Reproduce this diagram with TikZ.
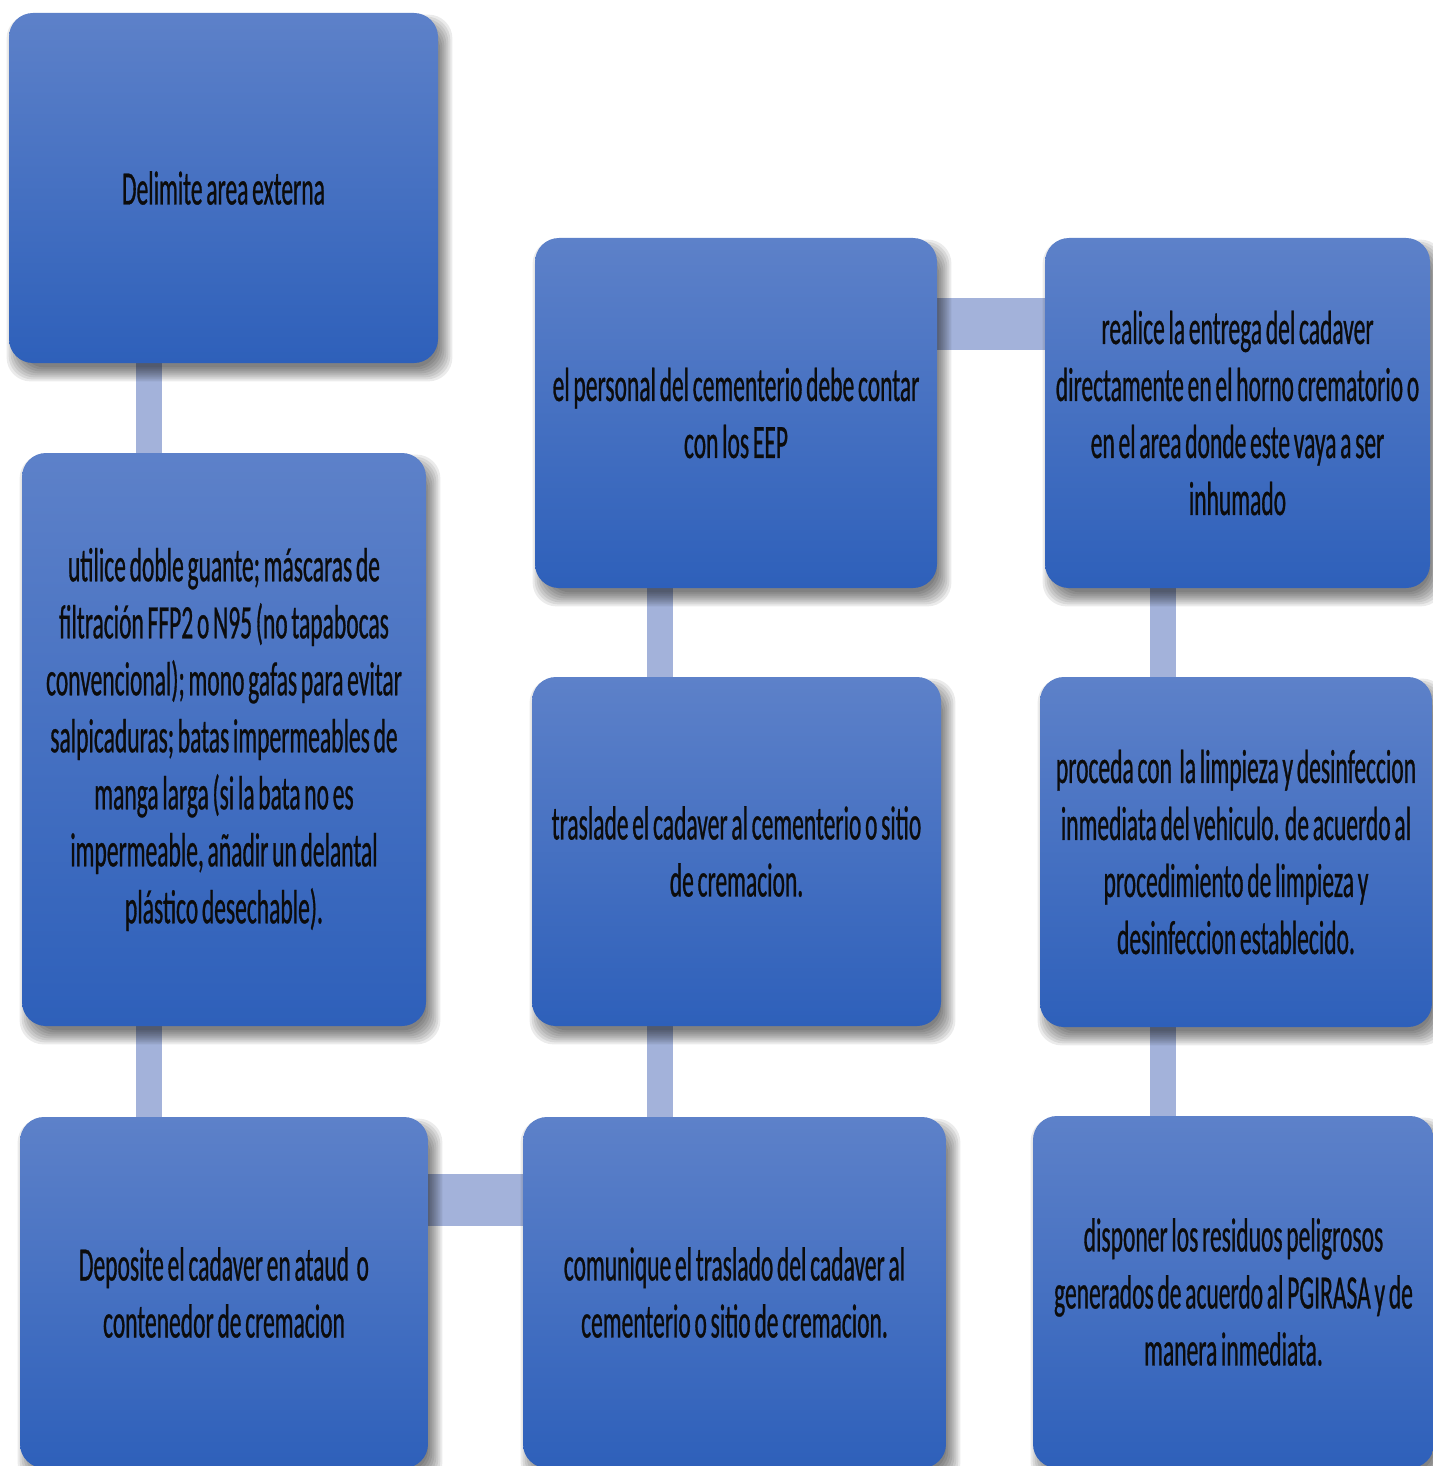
\documentclass[tikz,border=0pt]{standalone}
\usepackage{fontspec}
\newfontfamily\boxfont[FakeStretch=0.49,WordSpace=0.7,FakeBold=0.6]{Carlito}
\pgfdeclarelayer{background}
\pgfdeclarelayer{shadow}
\pgfsetlayers{background,shadow,main}
\definecolor{boxtop}{RGB}{93,129,201}
\definecolor{boxbot}{RGB}{46,96,186}
\definecolor{barcol}{RGB}{163,178,218}
\definecolor{txt}{RGB}{12,12,12}
\tikzset{
  stepbox/.style={rectangle, rounded corners=12pt, top color=boxtop, bottom color=boxbot,
    draw=none, inner sep=0pt, align=center, text=txt,
    font=\boxfont\fontsize{24pt}{28.5pt}\selectfont},
  vbar/.style={draw=barcol, line width=13pt},
  hbar/.style={draw=barcol, line width=26pt},
  shadowpiece/.style={fill=black, opacity=0.08, rounded corners=12pt},
}
\begin{document}
\begin{tikzpicture}[x=0.5pt,y=-0.5pt]
\begin{pgfonlayer}{background}
\fill[white] (0,0) rectangle (1432,1466);
\end{pgfonlayer}
\useasboundingbox (0,0) rectangle (1432,1466);

\node[stepbox, minimum width=214.5pt, minimum height=175pt] (b1) at (223.5,188) {Delimite area externa};
\node[stepbox, minimum width=202pt, minimum height=286.5pt] (b2) at (224,739.5)
 {utilice doble guante; máscaras de\\filtración FFP2 o N95 (no tapabocas\\convencional); mono gafas para evitar\\salpicaduras; batas impermeables de\\manga larga (si la bata no es\\impermeable, añadir un delantal\\plástico desechable).};
\node[stepbox, minimum width=204pt, minimum height=175.5pt] (b3) at (224,1292.5)
 {Deposite el cadaver en ataud~ o\\contenedor de cremacion};
\node[stepbox, minimum width=211.5pt, minimum height=175.5pt] (b4) at (734.5,1292.5)
 {comunique el traslado del cadaver al\\cementerio o sitio de cremacion.};
\node[stepbox, minimum width=204.5pt, minimum height=174.5pt] (b5) at (736.5,851.5)
 {traslade el cadaver al cementerio o sitio\\de cremacion.};
\node[stepbox, minimum width=201pt, minimum height=175pt] (b6) at (736,413)
 {el personal del cementerio debe contar\\con los EEP};
\node[stepbox, minimum width=192.5pt, minimum height=175pt] (b7) at (1237.5,413)
 {realice la entrega del cadaver\\directamente en el horno crematorio o\\en el area donde este vaya a ser\\inhumado};
\node[stepbox, minimum width=196pt, minimum height=175pt] (b8) at (1236,852)
 {proceda con~ la limpieza y desinfeccion\\inmediata del vehiculo. de acuerdo al\\procedimiento de limpieza y\\desinfeccion establecido.};
\node[stepbox, minimum width=200.5pt, minimum height=176pt] (b9) at (1233.5,1292)
 {disponer los residuos peligrosos\\generados de acuerdo al PGIRASA y de\\manera inmediata.};

\begin{pgfonlayer}{shadow}
\foreach \n in {b1,b2,b3,b4,b5,b6,b7,b8,b9}{
  \foreach \r in {0,...,7}{
    \fill[shadowpiece]
      ([shift={({3pt-(\r-3)*1pt},{-5pt-(\r-3)*1pt})}]\n.south west)
      rectangle ([shift={({3pt+(\r-3)*1pt},{-5pt+(\r-3)*1pt})}]\n.north east);
  }
}
\end{pgfonlayer}

\begin{pgfonlayer}{background}
\draw[vbar] ([xshift=70pt]b1.south west) -- ([xshift=70pt]b1.south west |- b2.north);
\draw[vbar] ([xshift=63.5pt]b2.south west) -- ([xshift=63.5pt]b2.south west |- b3.north);
\draw[hbar] ([yshift=-41.75pt]b3.north east) -- ([yshift=-41.75pt]b3.north east -| b4.west);
\draw[vbar] ([xshift=64pt]b5.south west |- b4.north) -- ([xshift=64pt]b5.south west);
\draw[vbar] ([xshift=62.5pt]b6.south west |- b5.north) -- ([xshift=62.5pt]b6.south west);
\draw[hbar] ([yshift=-43pt]b6.north east) -- ([yshift=-43pt]b6.north east -| b7.west);
\draw[vbar] ([xshift=59pt]b7.south west) -- ([xshift=59pt]b7.south west |- b8.north);
\draw[vbar] ([xshift=61.5pt]b8.south west) -- ([xshift=61.5pt]b8.south west |- b9.north);
\end{pgfonlayer}
\end{tikzpicture}
\end{document}
